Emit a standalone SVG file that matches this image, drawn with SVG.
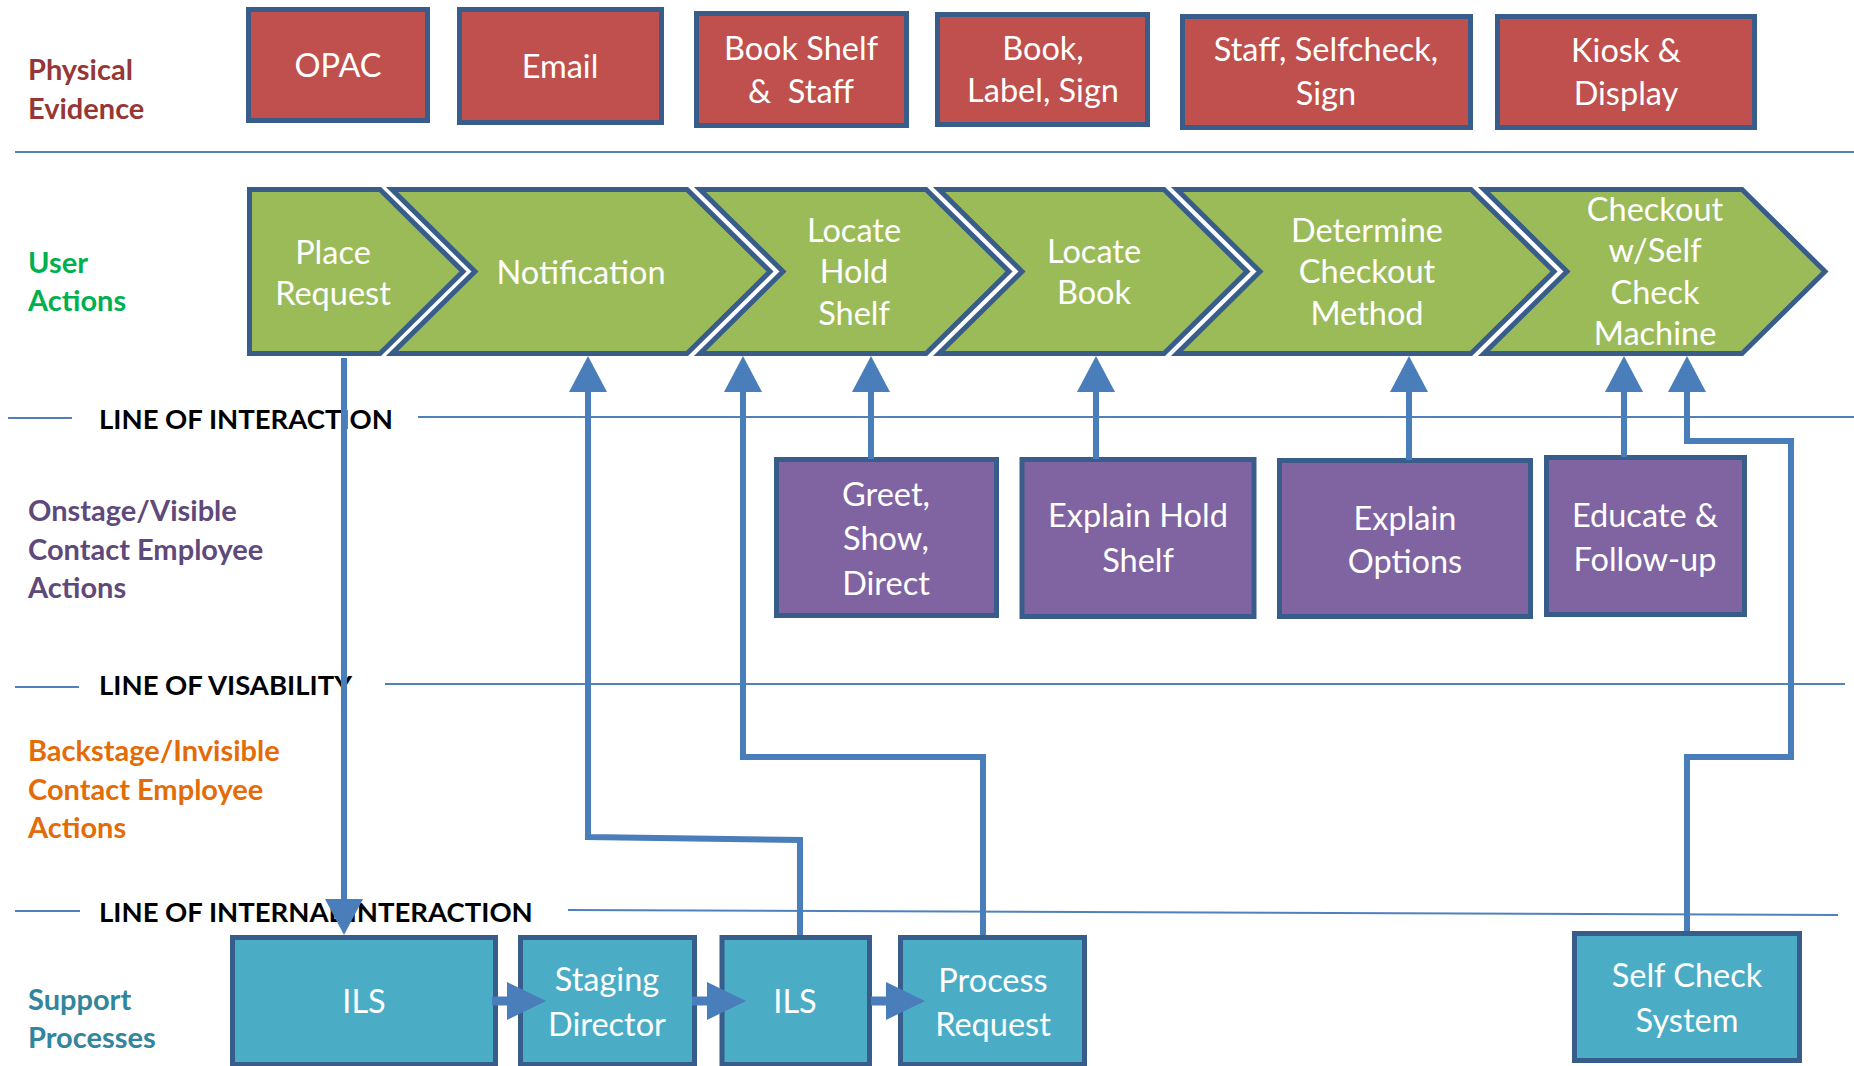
<svg xmlns="http://www.w3.org/2000/svg" width="1854" height="1066" viewBox="0 0 1854 1066">
<style>
.box{stroke:#385D8A;stroke-width:5;stroke-linejoin:miter}
.red{fill:#C0504D}
.grn{fill:#9BBB59}
.pur{fill:#8064A2}
.teal{fill:#4BACC6}
.bt{font-family:Lato,"Liberation Sans",sans-serif;font-size:32.5px;fill:#FFFFFF;text-anchor:middle}
.lbl{font-family:Lato,"Liberation Sans",sans-serif;font-size:29px;font-weight:bold}
.lt{font-family:Lato,"Liberation Sans",sans-serif;font-size:27.5px;font-weight:bold;fill:#000000}
.ln{stroke:#4F81BD;stroke-width:2;fill:none}
.con{stroke:#4A7EBB;stroke-width:6;fill:none;stroke-linejoin:miter}
.blk{fill:#4A7EBB}
</style>
<defs>
<marker id="ah" viewBox="0 0 36 38" refX="0" refY="19" markerWidth="36" markerHeight="38" markerUnits="userSpaceOnUse" orient="auto">
<path d="M0,0 L36,19 L0,38 Z" fill="#4A7EBB"/>
</marker>
<path id="blkarrow" d="M0,-4.5 H15 V-19 L54,0 L15,19 V4.5 H0 Z"/>
</defs>
<rect width="1854" height="1066" fill="#FFFFFF"/>

<g id="lane-labels">
<text class="lbl" fill="#953735" x="28" y="80">Physical</text>
<text class="lbl" fill="#953735" x="28" y="119">Evidence</text>
<text class="lbl" fill="#00B050" x="28" y="273">User</text>
<text class="lbl" fill="#00B050" x="28" y="311">Actions</text>
<text class="lbl" fill="#5F497A" x="28" y="521">Onstage/Visible</text>
<text class="lbl" fill="#5F497A" x="28" y="560">Contact Employee</text>
<text class="lbl" fill="#5F497A" x="28" y="598">Actions</text>
<text class="lbl" fill="#E36C09" x="28" y="761">Backstage/Invisible</text>
<text class="lbl" fill="#E36C09" x="28" y="800">Contact Employee</text>
<text class="lbl" fill="#E36C09" x="28" y="838">Actions</text>
<text class="lbl" fill="#31859C" x="28" y="1010">Support</text>
<text class="lbl" fill="#31859C" x="28" y="1048">Processes</text>
</g>

<g id="lines">
<line class="ln" x1="15" y1="152" x2="1854" y2="152"/>
<line class="ln" x1="8" y1="418" x2="72" y2="418"/>
<text class="lt" x="99" y="429">LINE OF INTERACTION</text>
<line class="ln" x1="418" y1="417" x2="1854" y2="417"/>
<line class="ln" x1="15" y1="687" x2="79" y2="687"/>
<text class="lt" x="99" y="695">LINE OF VISABILITY</text>
<line class="ln" x1="385" y1="684" x2="1845" y2="684"/>
<line class="ln" x1="15" y1="911" x2="80" y2="911"/>
<text class="lt" x="99" y="922">LINE OF INTERNAL INTERACTION</text>
<line class="ln" x1="568" y1="910" x2="1838" y2="915"/>
</g>

<g id="opac"><rect class="box red" x="248.5" y="9.5" width="179" height="111"/><text class="bt" x="338" y="77">OPAC</text></g>
<g id="email"><rect class="box red" x="459.5" y="9.5" width="202" height="113"/><text class="bt" x="560" y="78">Email</text></g>
<g id="bookshelf"><rect class="box red" x="696.5" y="13.5" width="210" height="112"/><text class="bt" x="801" y="60">Book Shelf</text><text class="bt" x="801" y="103">&amp;&#160; Staff</text></g>
<g id="booklabel"><rect class="box red" x="937.5" y="14.5" width="210" height="110"/><text class="bt" x="1043" y="60">Book,</text><text class="bt" x="1043" y="102">Label, Sign</text></g>
<g id="staffsign"><rect class="box red" x="1182.5" y="16.5" width="288" height="111"/><text class="bt" x="1326" y="61">Staff, Selfcheck,</text><text class="bt" x="1326" y="105">Sign</text></g>
<g id="kiosk"><rect class="box red" x="1497.5" y="16.5" width="257" height="111"/><text class="bt" x="1626" y="62">Kiosk &amp;</text><text class="bt" x="1626" y="105">Display</text></g>

<g id="place-request"><path class="box grn" d="M249.5,189.5 H380 L463,271.5 L380,353.5 H249.5 Z"/><text class="bt" x="333" y="264">Place</text><text class="bt" x="333" y="305">Request</text></g>
<g id="notification"><path class="box grn" d="M392,189.5 H687 L770,271.5 L687,353.5 H392 L475,271.5 Z"/><text class="bt" x="581" y="284">Notification</text></g>
<g id="locate-hold"><path class="box grn" d="M700,189.5 H926 L1009,271.5 L926,353.5 H700 L783,271.5 Z"/><text class="bt" x="854" y="242">Locate</text><text class="bt" x="854" y="283">Hold</text><text class="bt" x="854" y="325">Shelf</text></g>
<g id="locate-book"><path class="box grn" d="M939,189.5 H1164 L1247,271.5 L1164,353.5 H939 L1022,271.5 Z"/><text class="bt" x="1094" y="263">Locate</text><text class="bt" x="1094" y="304">Book</text></g>
<g id="determine"><path class="box grn" d="M1177,189.5 H1471 L1554,271.5 L1471,353.5 H1177 L1260,271.5 Z"/><text class="bt" x="1367" y="242">Determine</text><text class="bt" x="1367" y="283">Checkout</text><text class="bt" x="1367" y="325">Method</text></g>
<g id="checkout"><path class="box grn" d="M1484,189.5 H1742 L1825,271.5 L1742,353.5 H1484 L1567,271.5 Z"/><text class="bt" x="1655" y="221">Checkout</text><text class="bt" x="1655" y="262">w/Self</text><text class="bt" x="1655" y="304">Check</text><text class="bt" x="1655" y="345">Machine</text></g>

<g id="greet"><rect class="box pur" x="776.5" y="459.5" width="220" height="156"/><text class="bt" x="886" y="506">Greet,</text><text class="bt" x="886" y="550">Show,</text><text class="bt" x="886" y="595">Direct</text></g>
<g id="explain-hold"><rect class="box pur" x="1022" y="459.5" width="232" height="157"/><text class="bt" x="1138" y="527">Explain Hold</text><text class="bt" x="1138" y="572">Shelf</text></g>
<g id="explain-options"><rect class="box pur" x="1279.5" y="460.5" width="251" height="156"/><text class="bt" x="1405" y="530">Explain</text><text class="bt" x="1405" y="573">Options</text></g>
<g id="educate"><rect class="box pur" x="1546.5" y="457.5" width="198" height="157"/><text class="bt" x="1645" y="527">Educate &amp;</text><text class="bt" x="1645" y="571">Follow-up</text></g>

<g id="ils1"><rect class="box teal" x="232.5" y="937.5" width="263" height="127"/><text class="bt" x="364" y="1013">ILS</text></g>
<g id="staging"><rect class="box teal" x="520.5" y="937.5" width="174" height="127"/><text class="bt" x="607" y="991">Staging</text><text class="bt" x="607" y="1036">Director</text></g>
<g id="ils2"><rect class="box teal" x="722" y="937.5" width="147.5" height="127"/><text class="bt" x="795" y="1013">ILS</text></g>
<g id="process"><rect class="box teal" x="900.5" y="937.5" width="184" height="127"/><text class="bt" x="993" y="992">Process</text><text class="bt" x="993" y="1036">Request</text></g>
<g id="selfcheck"><rect class="box teal" x="1574.5" y="933.5" width="225" height="127"/><text class="bt" x="1687" y="987">Self Check</text><text class="bt" x="1687" y="1032">System</text></g>

<g id="connectors">
<use href="#blkarrow" class="blk" x="492" y="1001"/>
<use href="#blkarrow" class="blk" x="692" y="1001"/>
<use href="#blkarrow" class="blk" x="871" y="1001"/>
<path class="con" d="M344,358 V899" marker-end="url(#ah)"/>
<path class="con" d="M800,935 V840 L588,837 V392" marker-end="url(#ah)"/>
<path class="con" d="M983,935 V757 H743 V392" marker-end="url(#ah)"/>
<path class="con" d="M871,459 V392" marker-end="url(#ah)"/>
<path class="con" d="M1096,459 V392" marker-end="url(#ah)"/>
<path class="con" d="M1409,460 V392" marker-end="url(#ah)"/>
<path class="con" d="M1624,457 V392" marker-end="url(#ah)"/>
<path class="con" d="M1687,931 V757 H1791 V441 H1687 V392" marker-end="url(#ah)"/>
</g>
</svg>
